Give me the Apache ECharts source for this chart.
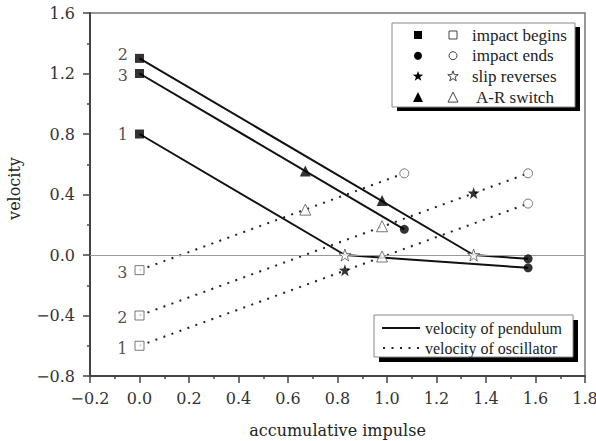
<!DOCTYPE html>
<html>
<head>
<meta charset="utf-8">
<script src="https://cdn.jsdelivr.net/npm/echarts@6/dist/echarts.min.js"></script>
<style>
  html, body { margin: 0; padding: 0; background: #fff; }
  #chart { width: 596px; height: 441px; }
</style>
</head>
<body>
<div id="chart"></div>
<script>
// pendulum velocity (solid) and oscillator velocity (dotted), cases 1..3
const pendulum1 = [[0, 0.8], [0.83, 0.0], [1.57, -0.085]];
const pendulum2 = [[0, 1.3], [1.35, 0.0], [1.57, -0.025]];
const pendulum3 = [[0, 1.2], [1.07, 0.17]];
const oscillator1 = [[0, -0.6], [1.57, 0.34]];
const oscillator2 = [[0, -0.4], [1.57, 0.54]];
const oscillator3 = [[0, -0.1], [1.07, 0.54]];

// event markers
const caseNames = ['1', '2', '3'];
const beginsFilled = [[0, 0.8], [0, 1.3], [0, 1.2]];
const beginsOpen = [[0, -0.6], [0, -0.4], [0, -0.1]];
const endsFilled = [[1.07, 0.17], [1.57, -0.025], [1.57, -0.085]];
const endsOpen = [[1.07, 0.54], [1.57, 0.54], [1.57, 0.34]];
const slipFilled = [[0.83, -0.1], [1.35, 0.41]];
const slipOpen = [[0.83, 0.0], [1.35, 0.0]];
const switchFilled = [[0.67, 0.555], [0.98, 0.36]];
const switchOpen = [[0.67, 0.3], [0.98, 0.19], [0.98, -0.01]];

const FONT = 'Liberation Serif';
const AXFONT = 'DejaVu Serif';
const STAR = 'path://M0,-10L2.35,-3.24L9.51,-3.09L3.8,1.24L5.88,8.09L0,4L-5.88,8.09L-3.8,1.24L-9.51,-3.09L-2.35,-3.24Z';
const fmt = v => v.toFixed(1).replace('-', '\u2212');

const chart = echarts.init(document.getElementById('chart'), null, { renderer: 'svg' });

function solid(data) {
  return { type: 'line', data: data, symbol: 'none', silent: true, z: 2,
    lineStyle: { color: '#111', width: 2, type: 'solid' } };
}
function dotted(data) {
  return { type: 'line', data: data, symbol: 'none', silent: true, z: 2,
    lineStyle: { color: '#222', width: 2, type: [2, 6.5] } };
}
function marks(data, symbol, size, filled, labels, labelShift) {
  const s = {
    type: 'scatter', data: data, symbol: symbol, symbolSize: size, z: 5,
    itemStyle: filled ? { color: '#000' } : { color: '#fff', borderColor: '#555', borderWidth: 1 }
  };
  if (labels) {
    s.data = data.map((v, i) => ({ value: v, label: { offset: [0, labelShift[i]] } }));
    s.label = { show: true, position: 'left', distance: 7,
      formatter: p => labels[p.dataIndex],
      fontFamily: AXFONT, fontSize: 16, color: '#222' };
  }
  return s;
}

// legend graphics
const lx = 392, ly = 23;
const legendRows = [
  ['rect', 'impact begins', 8],
  ['circle', 'impact ends', 8],
  [STAR, 'slip reverses', 11],
  ['triangle', 'A-R switch', 10]
];
function symbolShape(sym, cx, cy, size, filled) {
  const style = filled ? { fill: '#000' } : { fill: '#fff', stroke: '#444', lineWidth: 1 };
  if (sym === 'rect') return { type: 'rect', shape: { x: cx - size / 2, y: cy - size / 2, width: size, height: size }, style };
  if (sym === 'circle') return { type: 'circle', shape: { cx: cx, cy: cy, r: size / 2 }, style };
  if (sym === 'triangle') return { type: 'polygon', shape: { points: [[cx, cy - size / 2], [cx + size / 2, cy + size / 2], [cx - size / 2, cy + size / 2]] }, style };
  const pts = [];
  for (let i = 0; i < 10; i++) {
    const a = -Math.PI / 2 + i * Math.PI / 5;
    const r = i % 2 === 0 ? size / 2 : size / 5;
    pts.push([cx + r * Math.cos(a), cy + r * Math.sin(a)]);
  }
  return { type: 'polygon', shape: { points: pts }, style };
}
const graphics = [
  { type: 'rect', shape: { x: lx + 5, y: ly + 4, width: 183, height: 84 }, style: { fill: '#000' }, z: 10 },
  { type: 'rect', shape: { x: lx, y: ly, width: 183, height: 84 }, style: { fill: '#fff', stroke: '#888', lineWidth: 1 }, z: 11 }
];
legendRows.forEach((r, i) => {
  const y = ly + 12 + i * 20.7;
  const a = symbolShape(r[0], lx + 26, y, r[2], true);
  const b = symbolShape(r[0], lx + 61, y, r[2], false);
  a.z = 12; b.z = 12;
  graphics.push(a, b);
  graphics.push({ type: 'text', x: lx + (i === 3 ? 84 : 80), y: y, z: 12,
    style: { text: r[1], font: '17px "' + FONT + '"', fill: '#222', verticalAlign: 'middle' } });
});
const bx = 374, by = 315;
graphics.push(
  { type: 'rect', shape: { x: bx + 5, y: by + 5, width: 199, height: 42 }, style: { fill: '#000' }, z: 10 },
  { type: 'rect', shape: { x: bx, y: by, width: 199, height: 42 }, style: { fill: '#fff', stroke: '#888', lineWidth: 1 }, z: 11 },
  { type: 'line', shape: { x1: bx + 8, y1: by + 13, x2: bx + 46, y2: by + 13 }, style: { stroke: '#111', lineWidth: 2 }, z: 12 },
  { type: 'line', shape: { x1: bx + 9, y1: by + 33, x2: bx + 46, y2: by + 33 }, style: { stroke: '#222', lineWidth: 2, lineDash: [2, 6.5] }, z: 12 },
  { type: 'text', x: bx + 51, y: by + 13, z: 12, style: { text: 'velocity of pendulum', font: '16px "' + FONT + '"', fill: '#222', verticalAlign: 'middle' } },
  { type: 'text', x: bx + 51, y: by + 33, z: 12, style: { text: 'velocity of oscillator', font: '16px "' + FONT + '"', fill: '#222', verticalAlign: 'middle' } }
);

const axisCommon = {
  axisLine: { show: true, onZero: false, lineStyle: { color: '#444', width: 2 } },
  axisTick: { show: true, inside: false, length: 7, lineStyle: { color: '#444', width: 1.5 } },
  minorTick: { show: true, splitNumber: 2, length: 3, lineStyle: { color: '#444', width: 1.5 } },
  splitLine: { show: false },
  axisLabel: { fontFamily: AXFONT, fontSize: 16, color: '#333', formatter: fmt },
  nameTextStyle: { fontFamily: AXFONT, fontSize: 16, color: '#222' },
  nameLocation: 'middle'
};

chart.setOption({
  animation: false,
  backgroundColor: '#fff',
  grid: { left: 90, right: 11, top: 13, bottom: 65, containLabel: false, outerBoundsMode: 'none',
    show: true, borderColor: '#777', borderWidth: 1.5 },
  xAxis: Object.assign({}, axisCommon, {
    type: 'value', min: -0.2, max: 1.8, interval: 0.2,
    name: 'accumulative impulse', nameGap: 46,
    axisLabel: Object.assign({}, axisCommon.axisLabel, { margin: 14 })
  }),
  yAxis: Object.assign({}, axisCommon, {
    type: 'value', min: -0.8, max: 1.6, interval: 0.4,
    name: 'velocity', nameGap: 68,
    nameTextStyle: Object.assign({}, axisCommon.nameTextStyle, { padding: [0, 0, 0, 12] }),
    axisLabel: Object.assign({}, axisCommon.axisLabel, { margin: 15 })
  }),
  graphic: graphics,
  series: [
    Object.assign(solid(pendulum1), {
      markLine: { silent: true, symbol: 'none', label: { show: false },
        lineStyle: { color: '#999', width: 1, type: 'solid' }, data: [{ yAxis: 0 }] }
    }),
    solid(pendulum2),
    solid(pendulum3),
    dotted(oscillator1),
    dotted(oscillator2),
    dotted(oscillator3),
    marks(beginsFilled, 'rect', 9, true, caseNames, [0, -4, 2]),
    marks(beginsOpen, 'rect', 9, false, caseNames, [3, 2, 2]),
    marks(endsFilled, 'circle', 9, true),
    marks(endsOpen, 'circle', 9, false),
    marks(slipFilled, STAR, 12, true),
    marks(slipOpen, STAR, 12, false),
    marks(switchFilled, 'triangle', 11, true),
    marks(switchOpen, 'triangle', 11, false)
  ]
});
</script>
</body>
</html>
